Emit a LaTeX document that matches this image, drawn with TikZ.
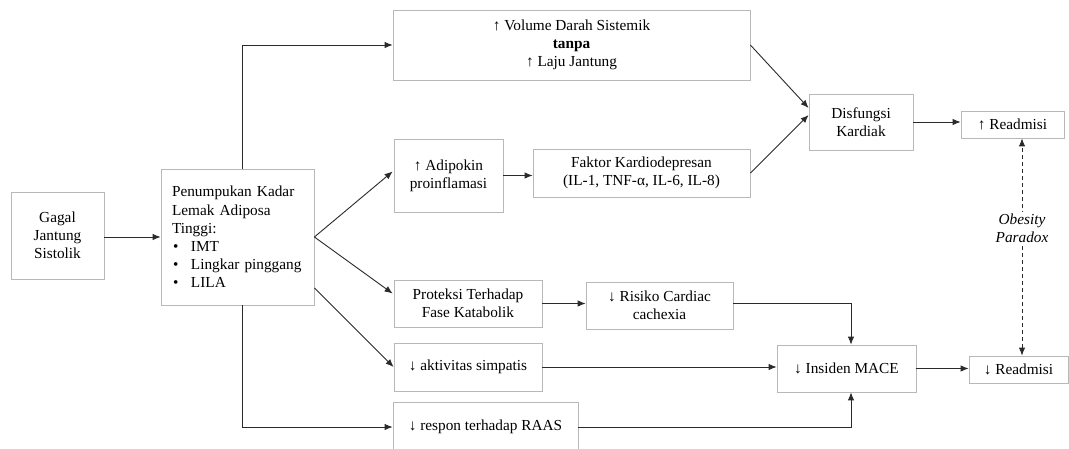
\documentclass[tikz,border=0pt]{standalone}
\usepackage{fontspec}
\setmainfont{Liberation Serif}
\usetikzlibrary{arrows.meta,calc}
\definecolor{boxgray}{HTML}{B8B8B8}
\definecolor{linegray}{HTML}{2A2A2A}
\newcommand{\mybul}{\makebox[19pt][l]{\hspace{1pt}•}}
\begin{document}
\begin{tikzpicture}[x=1pt,y=-1pt,
  bx/.style={draw=boxgray, line width=0.8pt, inner sep=0pt, align=center,
    font=\fontsize{15.3}{18.2}\selectfont},
  ln/.style={draw=linegray, line width=0.9pt},
  arr/.style={ln, -{Latex[length=8pt,width=6.5pt]}},
  darr/.style={ln, dashed, dash pattern=on 4pt off 3pt,
    {Latex[length=8pt,width=6.5pt]}-{Latex[length=8pt,width=6.5pt]}},
]
\useasboundingbox (0,0) rectangle (1069,448);
\fill[white] (0,0) rectangle (1069,448);

% nodes
\node[bx, minimum width=93pt, minimum height=87pt] (gagal) at (57.5,235.5) {Gagal\\Jantung\\Sistolik};
\node[bx, text width=131pt, inner xsep=11pt, minimum height=136pt, align=left] (penum) at (237.5,237)
  {Penumpukan Kadar\\Lemak Adiposa\\Tinggi:\\\mybul IMT\\\mybul Lingkar pinggang\\\mybul LILA};
\node[bx, minimum width=357pt, minimum height=70pt] (volume) at (571.5,45)
  {↑ Volume Darah Sistemik\\\textbf{tanpa}\\↑ Laju Jantung};
\node[bx, minimum width=109pt, minimum height=73pt] (adipokin) at (448.5,175.5) {↑ Adipokin\\proinflamasi};
\node[bx, minimum width=217pt, minimum height=48pt] (faktor) at (641.5,173) {Faktor Kardiodepresan\\(IL-1, TNF-α, IL-6, IL-8)};
\node[bx, minimum width=104pt, minimum height=56pt] (disf) at (861,122) {Disfungsi\\Kardiak};
\node[bx, minimum width=103pt, minimum height=27pt] (readup) at (1012.5,124.5) {↑ Readmisi};
\node[bx, minimum width=148pt, minimum height=47pt] (prot) at (468,303.5) {Proteksi Terhadap\\Fase Katabolik};
\node[bx, minimum width=147pt, minimum height=47pt] (risiko) at (659.5,305.5) {↓ Risiko Cardiac\\cachexia};
\node[bx, minimum width=148pt, minimum height=48pt] (aktiv) at (468,367) {↓ aktivitas simpatis};
\node[bx, minimum width=185pt, minimum height=50pt] (raas) at (485.5,427) {↓ respon terhadap RAAS};
\node[bx, minimum width=139pt, minimum height=47pt] (insiden) at (846.5,368.5) {↓ Insiden MACE};
\node[bx, minimum width=99pt, minimum height=27pt] (readdown) at (1018.5,369.5) {↓ Readmisi};

\coordinate (vx) at (242,0);
\coordinate (mx) at (851,0);
\coordinate (dx) at (1022,0);

% connectors
\draw[arr] (gagal.east |- 0,237) -- (penum.west |- 0,237);
\draw[arr] (vx |- penum.north) |- (volume.west);
\draw[arr] (vx |- penum.south) |- (raas.west);
\draw[arr] (penum.east) -- ($(adipokin.west)+(-1,-4)$);
\draw[arr] (penum.east) -- ($(prot.west)+(-1,-10)$);
\draw[arr] ($(penum.east)+(0,51)$) -- (aktiv.west);
\draw[arr] (adipokin.east) -- (adipokin.east -| faktor.west);
\draw[arr] (volume.east) -- ($(disf.west)+(0,-14)$);
\draw[arr] (faktor.east) -- ($(disf.west)+(0,-7)$);
\draw[arr] (disf.east) -- (disf.east -| readup.west);
\draw[arr] (prot.east) -- (prot.east -| risiko.west);
\draw[arr] (risiko.east |- prot.east) -| (mx |- insiden.north);
\draw[arr] (aktiv.east) -- (aktiv.east -| insiden.west);
\draw[arr] (raas.east) -| (mx |- insiden.south);
\draw[arr] (insiden.east) -- (insiden.east -| readdown.west);
\draw[darr] (dx |- readdown.north) -- (dx |- readup.south);
\node[fill=white, inner sep=2pt, align=center, font=\fontsize{15.3}{18.2}\selectfont\itshape] (op) at (1022,228) {Obesity\\Paradox};
\end{tikzpicture}
\end{document}
